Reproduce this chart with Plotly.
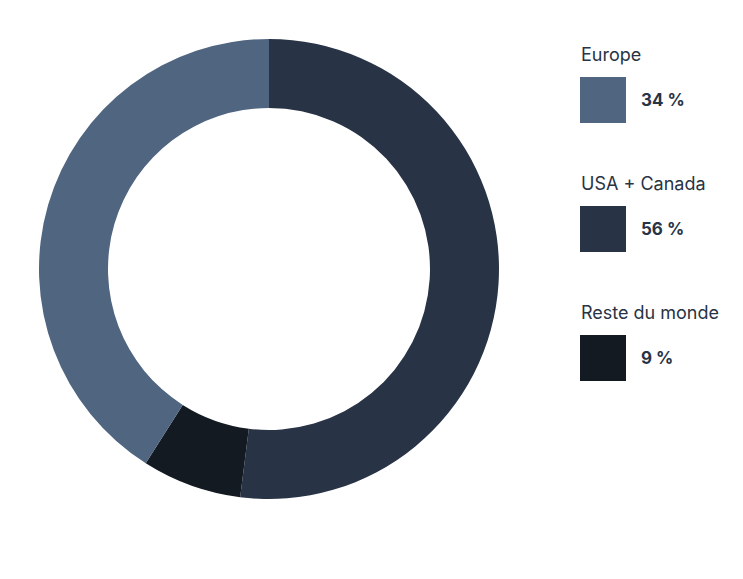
import plotly.graph_objects as go

labels = ["USA + Canada", "Reste du monde", "Europe"]
slice_shares = [52, 7, 41]       # arc sizes as drawn in the picture
label_percents = [56, 9, 34]     # percentages printed in the legend
colors = ["#283345", "#131a22", "#506580"]
legend_order = ["Europe", "USA + Canada", "Reste du monde"]

W, H = 743, 579
OFF = 8  # page offset of the plot in the browser
fig = go.Figure()
fig.add_trace(go.Pie(
    labels=labels, values=slice_shares, hole=0.7, sort=False, direction="clockwise",
    rotation=0, marker=dict(colors=colors, line=dict(width=0)),
    textinfo="none", hoverinfo="label", showlegend=False,
    domain=dict(x=[(39 - OFF) / W, (499 - OFF) / W], y=[1 - (499 - OFF) / H, 1 - (39 - OFF) / H]),
))

fnt = "Inter, Lato, sans-serif"
for i, name in enumerate(legend_order):
    k = labels.index(name)
    top = 77 + i * 129 - OFF
    fig.add_annotation(x=(579 - OFF) / W, y=1 - (top - 23) / H, xref="paper", yref="paper",
                       text=name, showarrow=False, xanchor="left", yanchor="middle",
                       font=dict(family=fnt, size=18, color="#283345"))
    fig.add_shape(type="rect", xref="paper", yref="paper",
                  x0=(580 - OFF) / W, x1=(626 - OFF) / W, y0=1 - (top + 46) / H, y1=1 - top / H,
                  fillcolor=colors[k], line=dict(width=0))
    fig.add_annotation(x=(639 - OFF) / W, y=1 - (top + 23) / H, xref="paper", yref="paper",
                       text="<b>%d %%</b>" % label_percents[k], showarrow=False,
                       xanchor="left", yanchor="middle",
                       font=dict(family=fnt, size=17, color="#283345"))

fig.update_layout(width=W, height=H, margin=dict(l=0, r=0, t=0, b=0),
                  paper_bgcolor="white", plot_bgcolor="white")
fig.write_html("out.html")
